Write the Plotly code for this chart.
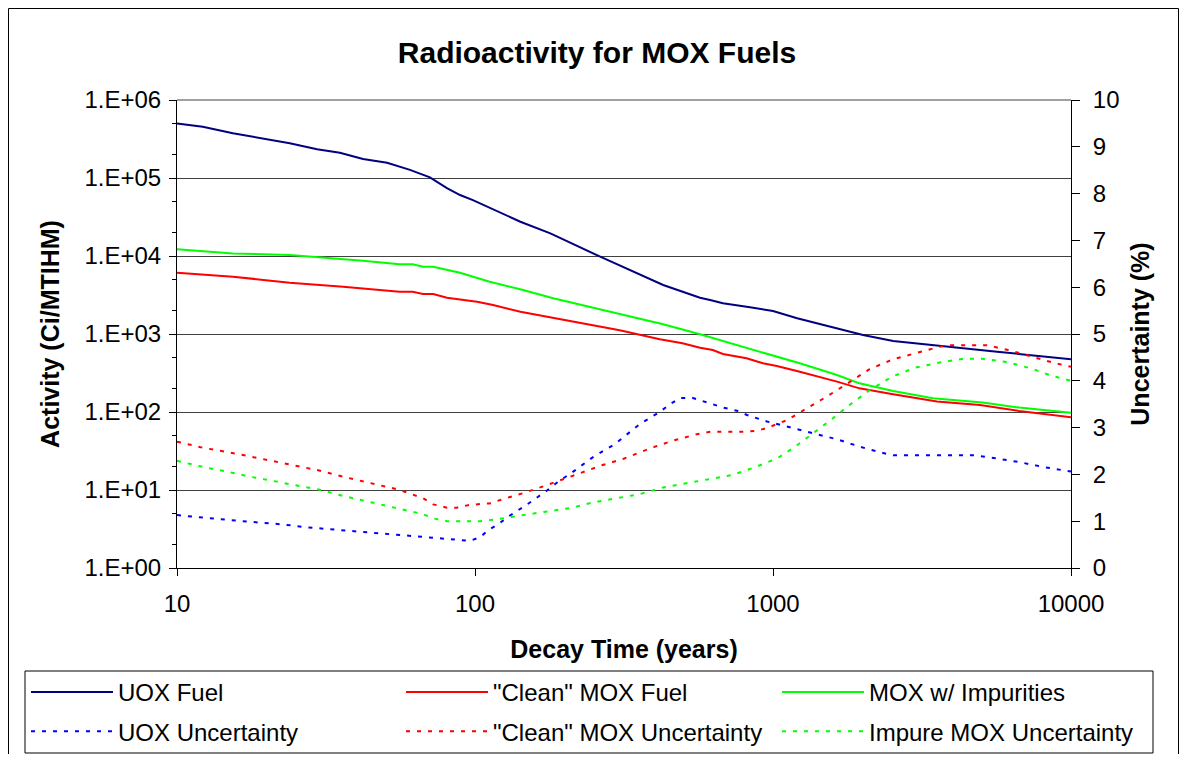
import plotly.graph_objects as go

# decay time (years) and activity (Ci/MTIHM)
uox_t = [10, 12.2, 15.4, 23.9, 29.5, 35.2, 42.1, 50.7, 60.5, 70.6, 80.5, 89.1, 98.4, 142, 179, 263,
         428, 569, 615, 679, 837, 1000, 1205, 2005, 2530, 3365, 5650, 10000]
uox_act = [5.0e5, 4.55e5, 3.74e5, 2.79e5, 2.33e5, 2.11e5, 1.75e5, 1.57e5, 1.27e5, 1.02e5, 7.4e4, 6.05e4,
           5.2e4, 2.75e4, 1.95e4, 9.8e3, 4.25e3, 2.92e3, 2.73e3, 2.48e3, 2.2e3, 1.97e3, 1.59e3, 970, 813,
           722, 593, 474]

clean_t = [10, 15.4, 23.9, 36.1, 55.8, 61.8, 66.9, 72.4, 80.5, 101.6, 115, 142, 306, 417, 497, 569, 628,
           679, 815, 925, 1030, 1230, 1640, 1950, 2530, 3550, 4950, 6700, 10000]
clean_act = [6100, 5430, 4550, 4040, 3480, 3480, 3260, 3260, 2920, 2590, 2350, 1930, 1120, 855, 760, 667,
             623, 554, 488, 421, 389, 329, 245, 201, 169, 136, 123, 103, 85.5]

impure_t = [10, 15.4, 23.9, 31.9, 42.1, 55.8, 61.8, 66.9, 72.4, 89.1, 112, 145, 183, 306, 428, 569, 759,
            860, 956, 1230, 1640, 1950, 2530, 3440, 5050, 6700, 10000]
impure_act = [12200, 10800, 10300, 9500, 8700, 7830, 7830, 7300, 7300, 6100, 4680, 3660, 2870, 1800, 1330,
              990, 722, 623, 566, 421, 298, 233, 186, 150, 132, 114, 98]

# uncertainties (%)
uox_unc_t = [10, 13.2, 15.9, 19.0, 22.7, 27.3, 32.6, 39.0, 46.9, 56.0, 66.9, 80.5, 96.2, 104, 111, 120,
             128, 149, 174, 188, 217, 249, 295, 358, 418, 451, 487, 534, 582, 679, 757, 818, 955, 1055,
             1261, 1640, 1960, 2290, 2530, 4690, 5650, 6740, 8050, 10000]
uox_unc = [1.13, 1.05, 1.01, 0.97, 0.93, 0.87, 0.83, 0.79, 0.75, 0.71, 0.67, 0.62, 0.58, 0.66, 0.81, 0.94,
           1.08, 1.35, 1.65, 1.82, 2.09, 2.37, 2.65, 3.08, 3.34, 3.50, 3.63, 3.64, 3.57, 3.43, 3.36, 3.27,
           3.13, 3.06, 2.93, 2.75, 2.59, 2.47, 2.41, 2.41, 2.34, 2.26, 2.16, 2.06]

clean_unc_t = [10, 12.2, 15.9, 19.0, 23.9, 30.2, 36.1, 46.9, 55.8, 66.9, 72.4, 80.5, 86.9, 96.2, 112, 124,
               145, 174, 208, 268, 314, 388, 461, 556, 615, 793, 884, 962, 1114, 1310, 1530, 1785, 2110,
               2530, 3040, 3630, 3900, 5220, 6150, 6740, 7980, 8680, 10000]
clean_unc = [2.70, 2.57, 2.44, 2.34, 2.20, 2.08, 1.95, 1.79, 1.67, 1.49, 1.36, 1.29, 1.29, 1.35, 1.38, 1.47,
             1.60, 1.77, 1.95, 2.20, 2.33, 2.56, 2.72, 2.86, 2.91, 2.91, 2.93, 3.00, 3.16, 3.42, 3.68, 3.95,
             4.25, 4.46, 4.60, 4.73, 4.76, 4.76, 4.66, 4.59, 4.46, 4.39, 4.30]

impure_unc_t = [10, 12.2, 14.7, 17.6, 21.0, 25.3, 30.2, 36.1, 43.4, 50.7, 60.5, 66.9, 72.4, 80.5, 104, 121,
                145, 174, 208, 249, 300, 358, 428, 516, 615, 732, 868, 1030, 1186, 1365, 1590, 1820, 2110,
                2510, 3000, 3630, 4340, 5040, 6090, 7290, 8680, 10000]
impure_unc = [2.29, 2.16, 2.06, 1.95, 1.86, 1.76, 1.67, 1.54, 1.42, 1.32, 1.20, 1.15, 1.06, 1.00, 1.00, 1.05,
              1.13, 1.20, 1.28, 1.40, 1.50, 1.58, 1.72, 1.81, 1.91, 1.99, 2.15, 2.34, 2.59, 2.88, 3.20, 3.50,
              3.80, 4.09, 4.28, 4.39, 4.47, 4.47, 4.40, 4.27, 4.10, 4.00]

act_ticks = [1, 10, 100, 1000, 1e4, 1e5, 1e6]
act_labels = ["1.E+00", "1.E+01", "1.E+02", "1.E+03", "1.E+04", "1.E+05", "1.E+06"]
time_ticks = [10, 100, 1000, 10000]
time_labels = ["10", "100", "1000", "10000"]

FONT = "Liberation Sans, Arial, sans-serif"
DOT = "4px,7px"

fig = go.Figure()
fig.add_trace(go.Scatter(x=uox_t, y=uox_act, name="UOX Fuel", mode="lines",
                         line=dict(color="#000080", width=2), legend="legend", legendgroup="a"))
fig.add_trace(go.Scatter(x=uox_unc_t, y=uox_unc, name="UOX Uncertainty", mode="lines", yaxis="y2",
                         line=dict(color="#0000FF", width=2, dash=DOT), legend="legend", legendgroup="b"))
fig.add_trace(go.Scatter(x=clean_t, y=clean_act, name='"Clean" MOX Fuel', mode="lines",
                         line=dict(color="#FF0000", width=2), legend="legend2", legendgroup="c"))
fig.add_trace(go.Scatter(x=clean_unc_t, y=clean_unc, name='"Clean" MOX Uncertainty', mode="lines", yaxis="y2",
                         line=dict(color="#FF0000", width=2, dash=DOT), legend="legend2", legendgroup="d"))
fig.add_trace(go.Scatter(x=impure_t, y=impure_act, name="MOX w/ Impurities", mode="lines",
                         line=dict(color="#00FF00", width=2), legend="legend3", legendgroup="e"))
fig.add_trace(go.Scatter(x=impure_unc_t, y=impure_unc, name="Impure MOX Uncertainty", mode="lines", yaxis="y2",
                         line=dict(color="#00FF00", width=2, dash=DOT), legend="legend3", legendgroup="f"))

# the page body has an 8px margin on every side; keep the figure inside it so no scrollbars appear
OFF = 8
W, H = 1187 - 2 * OFF, 762 - 2 * OFF
L, T = 177 - OFF, 100 - OFF
pw, ph = 1071 - 177, 568 - 100
R, B = W - L - pw, H - T - ph


def px_x(p):
    # window pixel -> paper x
    return (p - OFF - L) / pw


def px_y(p):
    # window pixel -> paper y
    return (T + ph - (p - OFF)) / ph


leg = dict(font=dict(family=FONT, size=24, color="black"), bgcolor="rgba(0,0,0,0)", borderwidth=0,
           yanchor="top", xanchor="left", tracegroupgap=5, itemwidth=82, traceorder="grouped")

fig.update_layout(
    width=W, height=H,
    margin=dict(l=L, r=R, t=T, b=B, autoexpand=False),
    paper_bgcolor="white", plot_bgcolor="white",
    font=dict(family=FONT, size=24, color="black"),
    title=dict(text="<b>Radioactivity for MOX Fuels</b>", x=(597 - OFF) / W, xref="container", xanchor="center",
               y=1 - (52 - OFF) / H, yref="container", yanchor="middle", font=dict(size=30)),
    xaxis=dict(type="log", range=[1, 4], tickvals=time_ticks, ticktext=time_labels,
               showgrid=False, showline=True, linecolor="black", linewidth=1,
               ticks="outside", ticklen=7, tickcolor="black", ticklabelstandoff=7,
               title=dict(text="<b>Decay Time (years)</b>", standoff=24, font=dict(size=25))),
    yaxis=dict(type="log", range=[0, 6], tickvals=act_ticks, ticktext=act_labels,
               showgrid=True, gridcolor="#404040", gridwidth=1, zeroline=False,
               showline=True, linecolor="black", linewidth=1,
               ticks="outside", ticklen=7, tickcolor="black", ticklabelstandoff=3,
               minor=dict(ticks="outside", ticklen=4, tickcolor="black", showgrid=False),
               title=dict(text="<b>Activity (Ci/MTIHM)</b>", standoff=17, font=dict(size=25))),
    yaxis2=dict(overlaying="y", side="right", range=[0, 10], dtick=1, showgrid=False, zeroline=False,
                showline=True, linecolor="black", linewidth=1,
                ticks="outside", ticklen=8, tickcolor="black", ticklabelstandoff=8,
                title=dict(text="<b>Uncertainty (%)</b>", standoff=12, font=dict(size=25))),
    legend=dict(leg, x=px_x(26), y=px_y(670)),
    legend2=dict(leg, x=px_x(401), y=px_y(670)),
    legend3=dict(leg, x=px_x(777), y=px_y(670)),
    shapes=[
        # plot-area top border
        dict(type="line", xref="paper", yref="paper", x0=0, x1=1, y0=1, y1=1,
             line=dict(color="#A0A0A0", width=2)),
        # legend box
        dict(type="rect", xref="paper", yref="paper", x0=px_x(25), x1=px_x(1153), y0=px_y(753), y1=px_y(671),
             line=dict(color="black", width=1)),
        # chart border
        dict(type="rect", xref="paper", yref="paper", x0=px_x(8.5), x1=px_x(1178.5), y0=px_y(800), y1=px_y(8.5),
             line=dict(color="black", width=1)),
    ],
)

fig.write_html("out.html")
